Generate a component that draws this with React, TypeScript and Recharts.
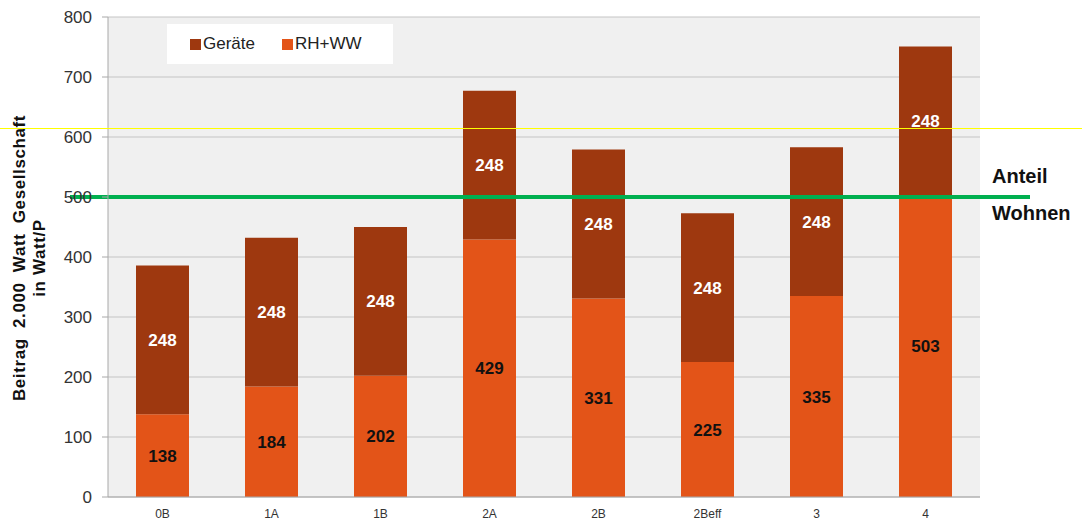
import { Bar, BarChart, CartesianGrid, LabelList, ReferenceLine, XAxis, YAxis } from "recharts"

const variants = ["0B", "1A", "1B", "2A", "2B", "2Beff", "3", "4"]
const rhww = [138, 184, 202, 429, 331, 225, 335, 503]
const geraete = [248, 248, 248, 248, 248, 248, 248, 248]
const yTicks = [0, 100, 200, 300, 400, 500, 600, 700, 800]
const anteilWohnen = 500

const data = variants.map((name, i) => ({
  name,
  rhww: rhww[i],
  geraete: geraete[i],
}))

const font = "'Liberation Sans', Arial, sans-serif"
const brown = "#9e380f"
const orange = "#e35418"

const GreenLine = (props: any) => (
  <line
    x1={props.x1 - 38}
    x2={props.x2 + 50}
    y1={props.y1}
    y2={props.y2}
    stroke="#00b050"
    strokeWidth={4}
  />
)

function ChartLegend() {
  return (
    <div
      style={{
        background: "#fff",
        width: 226,
        height: 40,
        display: "flex",
        alignItems: "center",
        fontFamily: font,
        fontSize: 17,
        color: "#222",
      }}
    >
      <span style={{ display: "inline-block", width: 11, height: 11, background: brown, marginLeft: 23, marginRight: 2 }} />
      Geräte
      <span style={{ display: "inline-block", width: 11, height: 11, background: orange, marginLeft: 27, marginRight: 2 }} />
      RH+WW
    </div>
  )
}

export default function App() {
  return (
    <div style={{ position: "absolute", left: 0, top: 0, width: 1082, height: 524, background: "#fff", fontFamily: font }}>
      <BarChart width={1082} height={524} data={data} margin={{ top: 17, right: 102, bottom: 0, left: 0 }}>
        <CartesianGrid vertical={false} fill="#f0f0f0" stroke="#c4c4c4" />
        <XAxis
          dataKey="name"
          height={27}
          tickLine={false}
          axisLine={{ stroke: "#a8a8a8" }}
          tick={{ fill: "#333", fontSize: 12, fontFamily: font }}
          tickMargin={6}
        />
        <YAxis
          width={108}
          domain={[0, 800]}
          ticks={yTicks}
          interval={0}
          tickSize={6}
          tickMargin={10}
          tickLine={{ stroke: "#a8a8a8" }}
          axisLine={{ stroke: "#a8a8a8" }}
          tick={{ fill: "#333", fontSize: 17, fontFamily: font }}
        />
        <Bar dataKey="rhww" stackId="a" fill={orange} barSize={53} isAnimationActive={false}>
          <LabelList dataKey="rhww" position="center" fill="#111" fontSize={17} fontWeight="bold" fontFamily={font} />
        </Bar>
        <Bar dataKey="geraete" stackId="a" fill={brown} barSize={53} isAnimationActive={false}>
          <LabelList dataKey="geraete" position="center" fill="#fff" fontSize={17} fontWeight="bold" fontFamily={font} />
        </Bar>
        <ReferenceLine y={anteilWohnen} ifOverflow="visible" shape={GreenLine} />
      </BarChart>

      <div style={{ position: "absolute", left: 167, top: 24 }}>
        <ChartLegend />
      </div>

      <div
        style={{
          position: "absolute",
          left: 30,
          top: 258,
          transform: "translate(-50%, -50%) rotate(-90deg)",
          textAlign: "center",
          fontWeight: "bold",
          fontSize: 17,
          lineHeight: "20px",
          color: "#111",
          whiteSpace: "nowrap",
          letterSpacing: 0.6,
        }}
      >
        <span style={{ wordSpacing: 5 }}>Beitrag 2.000 Watt Gesellschaft</span>
        <br />
        in Watt/P
      </div>

      <div
        style={{
          position: "absolute",
          left: 992,
          top: 158,
          fontWeight: "bold",
          fontSize: 20,
          lineHeight: "37px",
          color: "#111",
        }}
      >
        Anteil
        <br />
        Wohnen
      </div>

      <div style={{ position: "absolute", left: 0, top: 128, width: 1082, height: 1, background: "#ffff00" }} />
    </div>
  )
}
